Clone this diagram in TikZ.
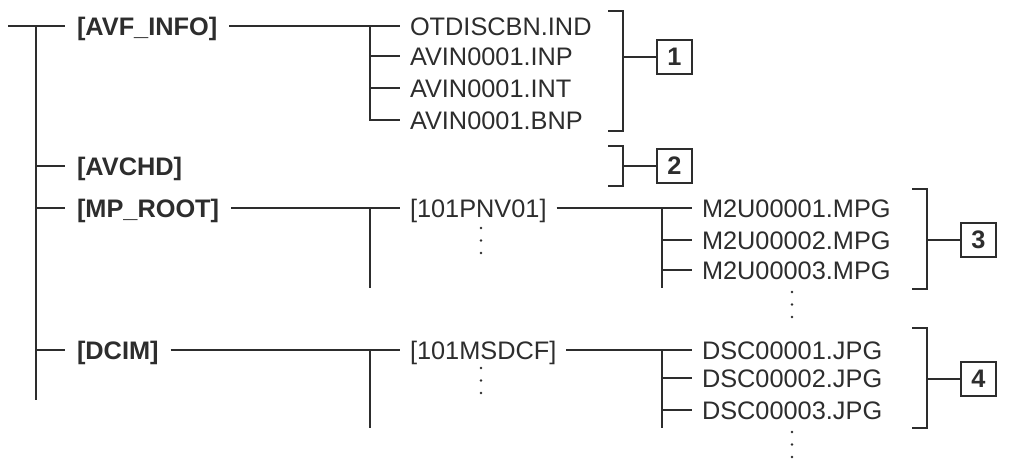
\documentclass[tikz,border=0pt]{standalone}
\usepackage{fontspec}
\setmainfont{Liberation Sans}
\usetikzlibrary{positioning,calc}
\definecolor{ink}{RGB}{45,45,45}

\begin{document}
\begin{tikzpicture}[x=0.75pt, y=-0.75pt,
    tree/.style={draw=ink, line width=1.4pt},
    folder/.style={anchor=west, inner xsep=9pt, inner ysep=0pt, outer sep=0pt,
                   text height=13.6pt, text depth=0pt,
                   font=\fontsize{19}{21}\selectfont\bfseries, text=ink},
    sub/.style={anchor=west, inner xsep=7.5pt, inner ysep=0pt, outer sep=0pt,
                text height=13.6pt, text depth=0pt,
                font=\fontsize{19}{21}\selectfont, text=ink},
    tag/.style={draw=ink, line width=1.4pt, minimum size=26pt, inner sep=0pt,
                font=\fontsize{19}{20}\selectfont\bfseries, text=ink},
    dot/.style={circle, fill=ink, inner sep=0pt, minimum size=2.2pt}]
  \useasboundingbox (0,0) rectangle (1012,465);
  % top level folders
  \coordinate (root) at (8,26);
  \coordinate (spine) at (36,26);
  \coordinate (spineend) at (36,400);
  \node[folder] (avf) at (65,26) {[AVF\_INFO]};
  \node[folder] (avchd) at (65,166) {[AVCHD]};
  \node[folder] (mproot) at (65,208) {[MP\_ROOT]};
  \node[folder] (dcim) at (65,350) {[DCIM]};
  \draw[tree] (root) -- (avf);
  \draw[tree] (spine) -- (spineend);
  \foreach \f in {avchd, mproot, dcim}
    \draw[tree] (spine |- \f.west) -- (\f.west);
  % AVF_INFO files
  \foreach \y/\name/\txt in {26/i1/OTDISCBN.IND, 56/i2/AVIN0001.INP,
                             88/i3/AVIN0001.INT, 120/i4/AVIN0001.BNP}
    \node[sub] (\name) at (400,\y) {\txt};
  \coordinate (javf) at (370,26);
  \draw[tree] (avf) -- (i1);
  \draw[tree] (javf) |- (i4.west);
  \foreach \name in {i2, i3}
    \draw[tree] (javf |- \name.west) -- (\name.west);
  % MP_ROOT
  \node[sub] (pnv) at (400,208) {[101PNV01]};
  \coordinate (jmp) at (370,208);
  \coordinate (jmpend) at (370,288);
  \draw[tree] (mproot) -- (pnv);
  \draw[tree] (jmp) -- (jmpend);
  \foreach \y/\name/\txt in {208/m1/M2U00001.MPG, 240/m2/M2U00002.MPG, 270/m3/M2U00003.MPG}
    \node[sub] (\name) at (692,\y) {\txt};
  \coordinate (jpnv) at (662,208);
  \coordinate (jpnvend) at (662,288);
  \draw[tree] (pnv) -- (m1);
  \draw[tree] (jpnv) -- (jpnvend);
  \foreach \name in {m2, m3}
    \draw[tree] (jpnv |- \name.west) -- (\name.west);
  % DCIM
  \node[sub] (dcf) at (400,350) {[101MSDCF]};
  \coordinate (jdc) at (370,350);
  \coordinate (jdcend) at (370,428);
  \draw[tree] (dcim) -- (dcf);
  \draw[tree] (jdc) -- (jdcend);
  \foreach \y/\name/\txt in {350/d1/DSC00001.JPG, 378/d2/DSC00002.JPG, 410/d3/DSC00003.JPG}
    \node[sub] (\name) at (692,\y) {\txt};
  \coordinate (jdcf) at (662,350);
  \coordinate (jdcfend) at (662,428);
  \draw[tree] (dcf) -- (d1);
  \draw[tree] (jdcf) -- (jdcfend);
  \foreach \name in {d2, d3}
    \draw[tree] (jdcf |- \name.west) -- (\name.west);
  % continuation dots
  \foreach \x/\y in {481/228, 792/292, 481/368, 792/432}
    \foreach \d in {0,1,2}
      \node[dot] at (\x,\y+12.5*\d) {};
  % brackets with numbered tags
  \foreach \x/\top/\bot/\mid/\n in {608/11/131/57/1, 608/146/186/166/2,
                                    912/189/289/240/3, 912/328/428/379/4}{
    \draw[tree] (\x,\top) -| (\x+15,\bot) -- (\x,\bot);
    \coordinate (b\n) at (\x+15,\mid);
    \node[tag] (t\n) at (\x+66.5,\mid) {\n};
    \draw[tree] (b\n) -- (t\n);
  }
\end{tikzpicture}
\end{document}
